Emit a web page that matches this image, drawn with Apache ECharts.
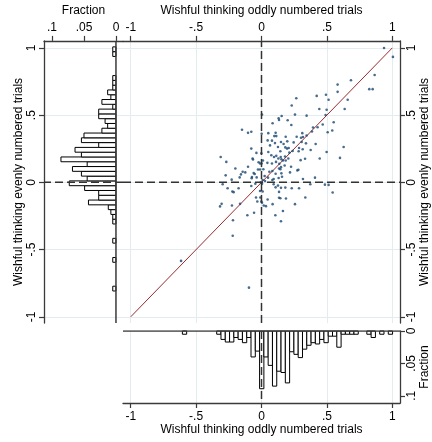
<!DOCTYPE html>
<html>
<head>
<meta charset="utf-8">
<script src="https://cdn.jsdelivr.net/npm/echarts@6/dist/echarts.min.js"></script>
<style>
  html, body { margin: 0; padding: 0; background: #fff; }
  #chart { width: 432px; height: 442px; }
</style>
</head>
<body>
<div id="chart"></div>
<script>
  // wishful thinking: odd trials (x) vs even trials (y)
  var points = [
    [0.865, 0.798], [0.824, 0.693], [0.850, 0.693], [0.684, 0.759], [0.582, 0.727], [0.582, 0.673],
    [0.422, 0.643], [0.493, 0.651], [0.266, 0.626], [0.513, 0.614], [0.659, 0.614], [0.231, 0.572],
    [0.442, 0.545], [0.498, 0.540], [0.636, 0.545], [0.490, 0.501], [0.004, 0.504], [0.345, 0.496],
    [0.256, 0.504], [0.154, 0.494], [0.131, 0.477], [0.134, 0.464], [0.200, 0.462], [0.085, 0.440],
    [0.228, 0.427], [0.552, 0.447], [0.468, 0.430], [0.429, 0.410], [0.394, 0.408], [0.506, 0.373],
    [0.541, 0.386], [-0.149, 0.391], [-0.103, 0.368], [-0.078, 0.376], [0.001, 0.361], [0.052, 0.366],
    [0.108, 0.368], [0.098, 0.344], [0.113, 0.344], [0.185, 0.339], [0.269, 0.339], [0.302, 0.332],
    [0.317, 0.337], [0.312, 0.366], [0.345, 0.349], [0.386, 0.378], [0.047, 0.312], [0.080, 0.310],
    [0.103, 0.292], [0.149, 0.300], [0.197, 0.305], [0.169, 0.285], [0.246, 0.297], [0.307, 0.300],
    [0.340, 0.290], [0.414, 0.285], [0.628, 0.263], [0.065, 0.275], [0.126, 0.263], [0.182, 0.260],
    [0.195, 0.251], [0.208, 0.256], [0.287, 0.256], [0.315, 0.246], [0.144, 0.231], [0.213, 0.221],
    [0.238, 0.233], [0.284, 0.231], [0.376, 0.241], [0.498, 0.226], [-0.078, 0.251], [-0.039, 0.219],
    [-0.001, 0.216], [0.052, 0.226], [0.075, 0.202], [0.096, 0.189], [0.113, 0.197], [0.129, 0.177],
    [0.147, 0.189], [0.180, 0.192], [0.205, 0.177], [0.185, 0.162], [0.152, 0.172], [0.164, 0.162],
    [0.333, 0.175], [0.445, 0.177], [0.600, 0.182], [-0.312, 0.189], [-0.269, 0.152], [-0.068, 0.177],
    [-0.065, 0.170], [-0.022, 0.150], [-0.011, 0.140], [0.001, 0.140], [0.011, 0.162], [0.045, 0.145],
    [0.080, 0.140], [0.111, 0.152], [0.136, 0.138], [0.149, 0.113], [0.134, 0.103], [0.144, 0.098],
    [0.177, 0.125], [0.226, 0.116], [0.274, 0.089], [0.282, 0.094], [0.299, 0.165], [-0.103, 0.116],
    [-0.200, 0.103], [-0.144, 0.079], [-0.124, 0.074], [-0.157, 0.059], [-0.073, 0.040], [-0.027, 0.096],
    [-0.011, 0.096], [0.014, 0.098], [0.060, 0.079], [0.083, 0.084], [0.218, 0.074], [0.108, 0.064],
    [0.152, 0.067], [-0.274, 0.052], [-0.228, 0.020], [-0.167, 0.037], [-0.060, 0.069], [-0.052, 0.062],
    [-0.037, 0.037], [0.024, 0.047], [0.050, 0.035], [0.083, 0.017], [0.093, 0.025], [0.131, 0.032],
    [0.157, 0.042], [0.317, 0.025], [0.409, 0.035], [-0.297, -0.014], [-0.259, -0.044], [-0.223, -0.068],
    [-0.213, -0.073], [-0.175, -0.044], [-0.078, -0.027], [-0.047, -0.010], [-0.006, 0.000], [0.004, -0.010],
    [0.093, -0.014], [0.108, -0.037], [0.126, -0.024], [0.149, -0.041], [0.182, -0.039], [0.231, -0.044],
    [0.287, -0.044], [0.373, -0.014], [0.485, -0.017], [0.513, -0.019], [0.544, -0.076], [-0.011, -0.064],
    [0.009, -0.068], [-0.009, -0.113], [-0.032, -0.142], [-0.001, -0.142], [0.004, -0.152], [0.047, -0.127],
    [0.017, -0.172], [0.034, -0.177], [0.085, -0.162], [0.134, -0.071], [0.134, -0.115], [0.187, -0.120],
    [0.144, -0.118], [0.256, -0.162], [0.335, -0.113], [-0.305, -0.160], [-0.317, -0.179], [-0.226, -0.172],
    [-0.164, -0.160], [-0.042, -0.113], [-0.057, -0.226], [-0.108, -0.245], [0.106, -0.245], [0.164, -0.213],
    [0.149, -0.289], [-0.218, -0.282], [-0.220, -0.397], [-0.075, 0.030], [0.009, 0.017], [0.027, 0.010],
    [0.937, 0.999], [1.005, 0.933], [-0.615, -0.584], [-0.096, -0.783]
  ];
  var diagonal = [[-1, -1], [1, 1]];
  var axisTicks = [-1, -0.5, 0, 0.5, 1];
  var fracTicks = [0, 0.05, 0.1];

  // histogram of odd trials (bottom panel)
  var xBinStart = -0.605;
  var xBinWidth = 0.0328;
  var xFrac = [0.005, 0, 0, 0, 0, 0, 0, 0, 0.005, 0.013,
    0.017, 0.017, 0.01, 0.013, 0.018, 0.01, 0.04, 0.031, 0.089, 0.04,
    0.053, 0.085, 0.062, 0.064, 0.08, 0.032, 0.036, 0.041, 0.028, 0.022,
    0.018, 0.02, 0.013, 0.018, 0.008, 0.008, 0.025, 0.005, 0.005, 0.005,
    0.005, 0, 0, 0.005, 0.01, 0, 0.005, 0, 0.005, 0];

  // histogram of even trials (left panel)
  var yBinStart = -0.808;
  var yBinWidth = 0.0356;
  var yFrac = [0.005, 0, 0, 0, 0, 0, 0.005, 0, 0, 0,
    0.005, 0, 0, 0, 0.005, 0.005, 0.008, 0.012, 0.043, 0.027,
    0.027, 0.049, 0.073, 0.045, 0.054, 0.068, 0.045, 0.086, 0.054, 0.064,
    0.027, 0.054, 0.05, 0.022, 0.013, 0.017, 0.027, 0.027, 0.005, 0.022,
    0.008, 0.013, 0.005, 0.005, 0.005, 0, 0, 0, 0, 0.005, 0.005];

  var xTitle = 'Wishful thinking oddly numbered trials';
  var yTitle = 'Wishful thinking evenly numbered trials';
  var fracTitle = 'Fraction';

  var yMin = -1.046, yMax = 1.052;
  var xMin = -1.059, xMax = 1.059;
  var leftFracMin = -0.011, leftFracMax = 0.1125, bottomFracMax = 0.111;

  function bins(start, width, fracs) {
    var out = [];
    fracs.forEach(function (f, i) {
      if (f > 0) out.push([start + i * width, f]);
    });
    return out;
  }

  var font = 'Liberation Sans, Arial, sans-serif';
  var lineC = '#3a3a3a';
  var gridC = '#e3edef';

  function fmt(v) { return String(v).replace('0.', '.'); }

  function histBar(horizontal, width) {
    return function (params, api) {
      var lo = api.value(0), f = api.value(1);
      var a, b;
      if (horizontal) {
        a = api.coord([0, lo]);
        b = api.coord([f, lo + width]);
      } else {
        a = api.coord([lo, 0]);
        b = api.coord([lo + width, f]);
      }
      return {
        type: 'rect',
        shape: {
          x: Math.min(a[0], b[0]), y: Math.min(a[1], b[1]),
          width: Math.abs(b[0] - a[0]), height: Math.abs(b[1] - a[1])
        },
        style: { fill: '#fff', stroke: '#000', lineWidth: 1 }
      };
    };
  }

  function axis(o) {
    var base = {
      type: 'value',
      axisLine: { show: true, onZero: false, lineStyle: { color: lineC, width: 1.3 } },
      axisTick: { show: true, length: 5, customValues: o.ticks, lineStyle: { color: lineC, width: 1.2 } },
      axisLabel: {
        show: o.labels !== false,
        customValues: o.ticks, formatter: fmt, color: '#000',
        fontFamily: font, fontSize: 12, margin: o.margin || 7, rotate: o.rotate || 0
      },
      splitLine: { show: !!o.grid, lineStyle: { color: gridC, width: 1 } },
      nameLocation: 'middle',
      nameTextStyle: { color: '#000', fontFamily: font, fontSize: 12, fontWeight: 'normal' }
    };
    return Object.assign(base, o.extra);
  }

  // straight reference line in one grid
  function refLine(gi, data, style, z) {
    return {
      type: 'line', xAxisIndex: gi, yAxisIndex: gi, data: data,
      showSymbol: false, silent: true, lineStyle: style, z: z || 5
    };
  }

  var dashed = { color: '#333', width: 1.5, type: [8, 4] };
  var solid = { color: lineC, width: 1.5, type: 'solid' };

  var chart = echarts.init(document.getElementById('chart'));
  chart.setOption({
    animation: false,
    backgroundColor: '#fff',
    tooltip: { show: false },
    grid: [
      { left: 44, top: 38, width: 79, height: 285 },
      { left: 123, top: 38, width: 277, height: 285 },
      { left: 123, top: 331, width: 277, height: 72 }
    ],
    xAxis: [
      axis({ ticks: fracTicks, margin: 7, extra: {
        gridIndex: 0, min: leftFracMin, max: leftFracMax, inverse: true, position: 'top',
        name: fracTitle, nameGap: 18 } }),
      axis({ ticks: axisTicks, margin: 7, grid: true, extra: {
        gridIndex: 1, min: xMin, max: xMax, position: 'top',
        name: xTitle, nameGap: 18 } }),
      axis({ ticks: axisTicks, margin: 8, grid: true, extra: {
        gridIndex: 2, min: xMin, max: xMax, position: 'bottom',
        name: xTitle, nameGap: 18 } })
    ],
    yAxis: [
      axis({ ticks: axisTicks, rotate: 90, margin: 6, grid: true, extra: {
        gridIndex: 0, min: yMin, max: yMax, position: 'left',
        name: yTitle, nameGap: 17, nameRotate: 90 } }),
      axis({ ticks: axisTicks, labels: false, grid: true, extra: {
        gridIndex: 1, min: yMin, max: yMax, position: 'right' } }),
      axis({ ticks: fracTicks, labels: false, extra: {
        gridIndex: 2, min: 0, max: bottomFracMax, inverse: true, position: 'right' } })
    ],
    series: [
      {
        name: 'even histogram',
        type: 'custom',
        xAxisIndex: 0, yAxisIndex: 0,
        data: bins(yBinStart, yBinWidth, yFrac),
        renderItem: histBar(true, yBinWidth)
      },
      {
        name: 'odd histogram',
        type: 'custom',
        xAxisIndex: 2, yAxisIndex: 2,
        data: bins(xBinStart, xBinWidth, xFrac),
        renderItem: histBar(false, xBinWidth)
      },
      refLine(0, [[0, yMin], [0, yMax]], solid),
      refLine(0, [[leftFracMin, 0], [leftFracMax, 0]], dashed),
      refLine(2, [[xMin, 0], [xMax, 0]], solid),
      refLine(2, [[0, 0], [0, bottomFracMax]], dashed),
      refLine(1, [[0, yMin], [0, yMax]], dashed),
      refLine(1, [[xMin, 0], [xMax, 0]], dashed),
      {
        name: 'diagonal',
        type: 'line',
        xAxisIndex: 1, yAxisIndex: 1,
        data: diagonal,
        showSymbol: false,
        lineStyle: { color: '#9b2a2e', width: 1 },
        z: 3
      },
      {
        name: 'trials',
        type: 'scatter',
        xAxisIndex: 1, yAxisIndex: 1,
        data: points,
        symbolSize: 2.6,
        itemStyle: { color: '#1a476f' },
        z: 4
      }
    ]
  });

  // right-hand labels read bottom-to-top like the left ones (v6 flips rotated axis text on the right)
  function upText(text, x, y) {
    return {
      type: 'text', x: x, y: y, rotation: Math.PI / 2, silent: true,
      style: { text: text, fill: '#000', fontFamily: font, fontSize: 12, align: 'center', verticalAlign: 'middle' }
    };
  }
  var side = [];
  axisTicks.forEach(function (v) {
    side.push(upText(fmt(v), 412, chart.convertToPixel({ yAxisIndex: 1 }, v)));
  });
  fracTicks.forEach(function (v) {
    side.push(upText(fmt(v), 412, chart.convertToPixel({ yAxisIndex: 2 }, v)));
  });
  side.push(upText(yTitle, 425, chart.convertToPixel({ yAxisIndex: 1 }, (yMin + yMax) / 2)));
  side.push(upText(fracTitle, 425, chart.convertToPixel({ yAxisIndex: 2 }, bottomFracMax / 2)));
  chart.setOption({ graphic: side });
</script>
</body>
</html>
